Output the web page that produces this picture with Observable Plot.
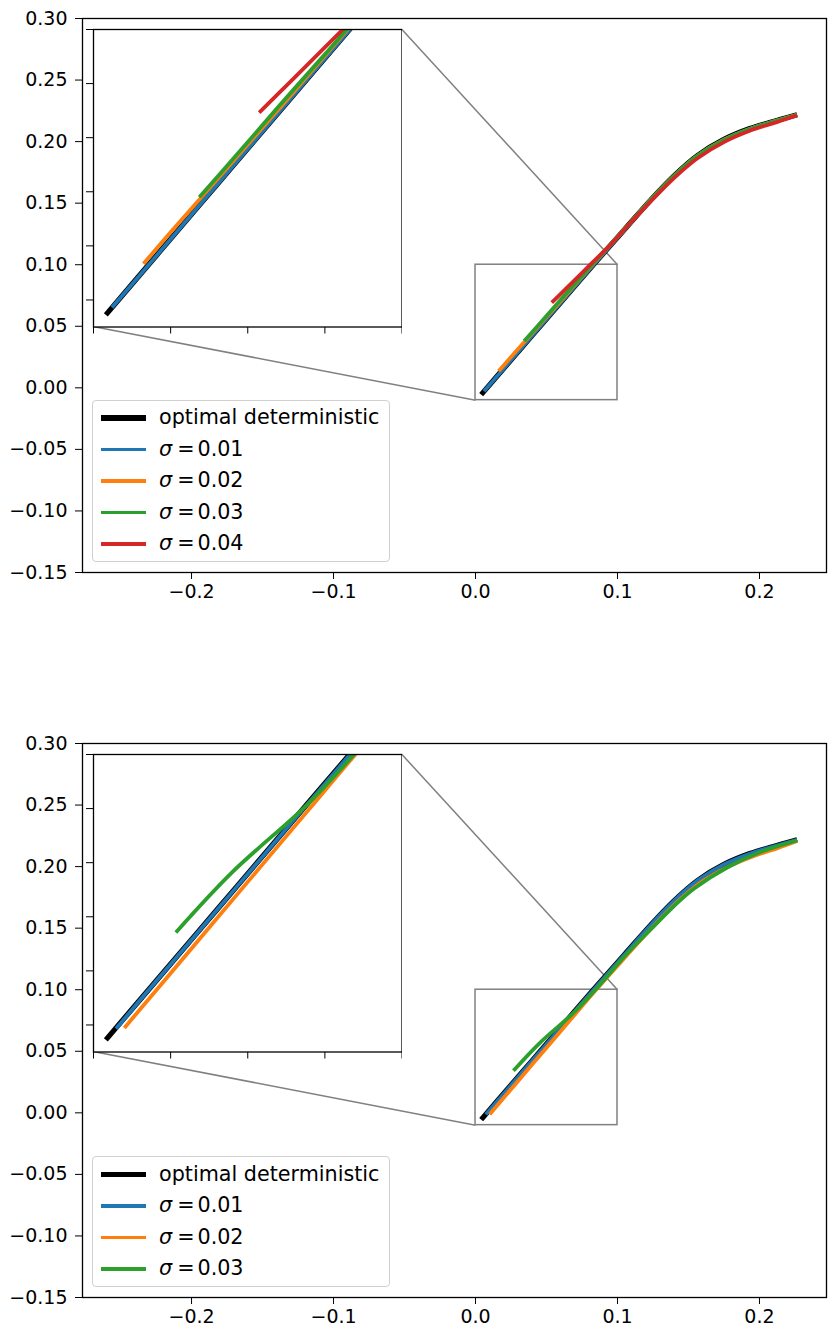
<!DOCTYPE html>
<html><head><meta charset="utf-8">
<script src="https://cdn.jsdelivr.net/npm/d3@7"></script>
<script src="https://cdn.jsdelivr.net/npm/@observablehq/plot@0.6"></script>
<style>
body{margin:0;background:#fff;}
#fig{position:relative;width:839px;height:1332px;overflow:hidden;font-family:"DejaVu Sans",sans-serif;background:#fff;}
.panel{position:absolute;left:0;}
.inset{position:absolute;}
.legend{position:absolute;border:1px solid #d0d0d0;border-radius:4px;background:rgba(255,255,255,0.8);box-sizing:border-box;font-size:20.7px;color:#000;}
.handle{position:absolute;left:8px;width:45px;}
.lab{position:absolute;left:66px;white-space:nowrap;transform:translateY(-52%);line-height:1;}
.lab i{font-style:italic;}
</style></head><body><div id="fig"></div>
<script>
// ---- axes / ticks ----
const xDomain = [-0.2768, 0.2472];
const yDomain = [-0.15, 0.30];
const xTicks = [-0.2, -0.1, 0.0, 0.1, 0.2];
const yTicks = [-0.15, -0.10, -0.05, 0.00, 0.05, 0.10, 0.15, 0.20, 0.25, 0.30];
const zoomX = [0, 0.1];
const zoomY = [-0.01, 0.1];
const insetXTicks = [0, 0.025, 0.05, 0.075, 0.1];
const insetYTicks = [0, 0.02, 0.04, 0.06, 0.08, 0.10];

// ---- series labels / colours ----
const topNames = ["optimal deterministic", "0.01", "0.02", "0.03", "0.04"];
const bottomNames = ["optimal deterministic", "0.01", "0.02", "0.03"];
const seriesColors = ["#000000", "#1f77b4", "#ff7f0e", "#2ca02c", "#d62728"];

// ---- optimal deterministic (both panels) ----
const optX = [0.004, 0.02, 0.04, 0.06, 0.083, 0.1045, 0.1234, 0.1394, 0.1563, 0.1753, 0.1932, 0.2122, 0.2265];
const optY = [-0.0055, 0.0159, 0.0426, 0.0693, 0.1000, 0.1280, 0.1526, 0.1718, 0.1887, 0.2020, 0.2106, 0.2172, 0.2218];

// ---- top panel ----
const topS1X = [0.006, 0.02, 0.04, 0.06, 0.083, 0.1045, 0.1234, 0.1394, 0.1563, 0.1753, 0.1932, 0.2122, 0.2265];
const topS1Y = [-0.0028, 0.0158, 0.0425, 0.0692, 0.0998, 0.1278, 0.1524, 0.1716, 0.1885, 0.2018, 0.2104, 0.2170, 0.2217];
const topS2X = [0.0162, 0.025, 0.035, 0.05, 0.065, 0.083, 0.1045, 0.1234, 0.1394, 0.1563, 0.1753, 0.1932, 0.2122, 0.2265];
const topS2Y = [0.0134, 0.0250, 0.0380, 0.0575, 0.0770, 0.1008, 0.1283, 0.1527, 0.1717, 0.1885, 0.2017, 0.2103, 0.2170, 0.2217];
const topS3X = [0.0343, 0.045, 0.06, 0.075, 0.083, 0.1045, 0.1234, 0.1394, 0.1563, 0.1753, 0.1932, 0.2122, 0.2265];
const topS3Y = [0.0380, 0.0518, 0.0715, 0.0908, 0.1012, 0.1283, 0.1527, 0.1716, 0.1884, 0.2015, 0.2102, 0.2169, 0.2217];
const topS4X = [0.0537, 0.065, 0.0808, 0.0965, 0.1095, 0.1234, 0.1394, 0.1563, 0.1753, 0.1932, 0.2122, 0.2265];
const topS4Y = [0.0693, 0.0820, 0.1000, 0.1180, 0.1345, 0.1515, 0.1700, 0.1865, 0.1998, 0.2088, 0.2158, 0.2214];

// ---- bottom panel ----
const botS1X = [0.0073, 0.02, 0.04, 0.06, 0.083, 0.1045, 0.1234, 0.1394, 0.1563, 0.1753, 0.1932, 0.2122, 0.2265];
const botS1Y = [-0.0014, 0.0158, 0.0425, 0.0692, 0.0998, 0.1279, 0.1525, 0.1717, 0.1886, 0.2019, 0.2105, 0.2171, 0.2218];
const botS2X = [0.010, 0.03, 0.05, 0.07, 0.0849, 0.1065, 0.1254, 0.1414, 0.1583, 0.1773, 0.1952, 0.2132, 0.2265];
const botS2Y = [-0.0011, 0.0259, 0.0529, 0.0799, 0.1000, 0.1278, 0.1518, 0.1705, 0.1868, 0.1995, 0.2082, 0.2152, 0.2208];
const botS3X = [0.0267, 0.045, 0.0693, 0.0844, 0.1065, 0.1234, 0.1398, 0.154, 0.1775, 0.2008, 0.2265];
const botS3Y = [0.0342, 0.0565, 0.0815, 0.1000, 0.1290, 0.1490, 0.1680, 0.1822, 0.1995, 0.2118, 0.2212];

const toRows = (xs, ys) => xs.map((x, i) => ({x, y: ys[i]}));
const topSeries = [[optX, optY], [topS1X, topS1Y], [topS2X, topS2Y], [topS3X, topS3Y], [topS4X, topS4Y]];
const botSeries = [[optX, optY], [botS1X, botS1Y], [botS2X, botS2Y], [botS3X, botS3Y]];

// ---- layout ----
const W = 839;
const axL = 82, axR = 826, axT = 18, axB = 572;
const inL = 92.5, inT = 28.5, inW = 308.5, inH = 297.5;
const fig = document.getElementById("fig");
const font = {fontFamily: "DejaVu Sans", fontSize: "19px", color: "#000", background: "transparent", overflow: "visible"};

function lineMarks(series, clip) {
  return series.map(([xs, ys], i) => Plot.line(toRows(xs, ys), {
    x: "x", y: "y", stroke: seriesColors[i], strokeWidth: i === 0 ? 5.2 : 3.8,
    curve: "catmull-rom", strokeLinecap: "butt", strokeLinejoin: "round", clip
  }));
}

function panel(top, height, series, names) {
  const sx = d3.scaleLinear(xDomain, [axL, axR]);
  const sy = d3.scaleLinear(yDomain, [axB, axT]);
  const tr = {x: sx.invert(inL + inW), y: sy.invert(inT)};
  const bl = {x: sx.invert(inL), y: sy.invert(inT + inH)};
  const links = [
    {x1: tr.x, y1: tr.y, x2: zoomX[1], y2: zoomY[1]},
    {x1: bl.x, y1: bl.y, x2: zoomX[0], y2: zoomY[0]}
  ];
  const main = Plot.plot({
    width: W, height,
    marginLeft: axL, marginRight: W - axR, marginTop: axT, marginBottom: height - axB,
    style: font,
    x: {domain: xDomain, ticks: xTicks, tickFormat: ".1f", tickSize: 7, tickPadding: 5, label: null},
    y: {domain: yDomain, ticks: yTicks, tickFormat: ".2f", tickSize: 7, tickPadding: 8, label: null},
    marks: [
      Plot.rect([{x1: zoomX[0], x2: zoomX[1], y1: zoomY[0], y2: zoomY[1]}], {x1: "x1", x2: "x2", y1: "y1", y2: "y2", fill: "none", stroke: "#808080", strokeWidth: 1.5}),
      Plot.link(links, {x1: "x1", y1: "y1", x2: "x2", y2: "y2", stroke: "#808080", strokeWidth: 1.5}),
      ...lineMarks(series, false),
      Plot.frame({stroke: "#000", strokeWidth: 1.3})
    ]
  });
  const wrap = document.createElement("div");
  wrap.className = "panel";
  wrap.style.top = top + "px";
  wrap.style.width = W + "px";
  wrap.style.height = height + "px";
  wrap.appendChild(main);

  // inset
  const mL = 10, mR = 1, mT = 1, mB = 10;
  const inset = Plot.plot({
    width: inW + mL + mR, height: inH + mT + mB,
    marginLeft: mL, marginRight: mR, marginTop: mT, marginBottom: mB,
    style: {...font, overflow: "hidden"},
    x: {domain: zoomX, ticks: insetXTicks, tickFormat: () => "", tickSize: 7, label: null},
    y: {domain: zoomY, ticks: insetYTicks, tickFormat: () => "", tickSize: 7, label: null},
    marks: [
      Plot.frame({fill: "white", stroke: "none"}),
      ...lineMarks(series, true),
      Plot.frame({stroke: "#000", strokeWidth: 1.3})
    ]
  });
  const iw = document.createElement("div");
  iw.className = "inset";
  iw.style.left = (inL - mL) + "px";
  iw.style.top = (inT - mT) + "px";
  iw.appendChild(inset);
  wrap.appendChild(iw);

  // legend
  const n = names.length, first = 17.5, step = 31.5;
  const lh = 2 * first + (n - 1) * step + 1;
  const lg = document.createElement("div");
  lg.className = "legend";
  lg.style.left = "92px";
  lg.style.width = "298px";
  lg.style.top = (561.5 - lh) + "px";
  lg.style.height = lh + "px";
  names.forEach((name, i) => {
    const cy = first + i * step;
    const h = document.createElement("div");
    h.className = "handle";
    const th = i === 0 ? 5.2 : 3.8;
    h.style.top = (cy - th / 2) + "px";
    h.style.height = th + "px";
    h.style.background = seriesColors[i];
    lg.appendChild(h);
    const t = document.createElement("div");
    t.className = "lab";
    t.style.top = cy + "px";
    if (i === 0) t.textContent = name;
    else t.innerHTML = '<i>σ</i><span style="margin:0 3px 0 5px">=</span>' + name;
    lg.appendChild(t);
  });
  wrap.appendChild(lg);
  fig.appendChild(wrap);
}

panel(0, 725, topSeries, topNames);
panel(725, 607, botSeries, bottomNames);
</script></body></html>
